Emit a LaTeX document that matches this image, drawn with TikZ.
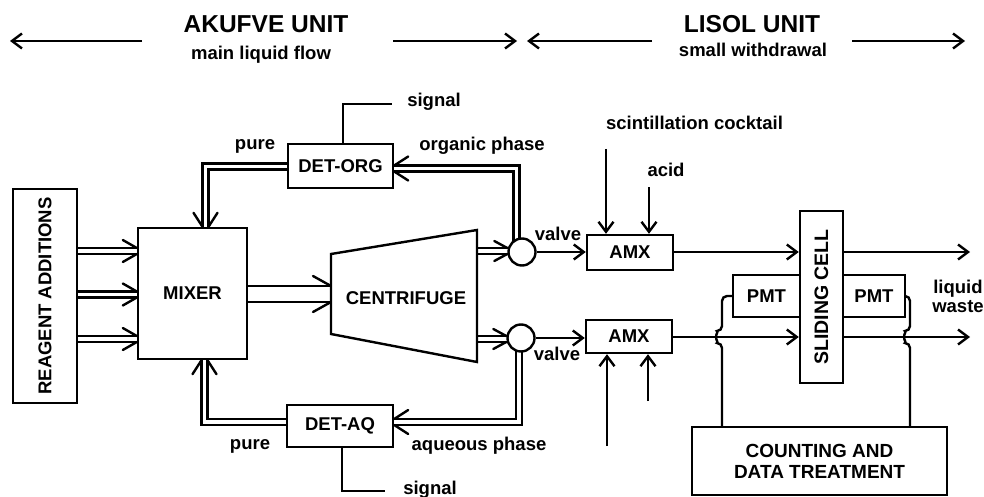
\documentclass[tikz,border=0pt]{standalone}
\usepackage{fontspec}
\setmainfont{Liberation Sans}
\usetikzlibrary{arrows.meta,calc}
\pgfdeclarelayer{bg}
\pgfsetlayers{bg,main}
\newcommand\lf{\fontsize{18.5}{21}\selectfont\bfseries}
\newcommand\hf{\fontsize{24.5}{28}\selectfont\bfseries}
\newcommand\barb[3]{\draw[barbst] (#1) ++(#2,#3) -- (#1);}
\begin{document}
\begin{tikzpicture}[x=1pt,y=-1pt,
  ln/.style={line width=2.4pt},
  arr/.style={ln,-{Straight Barb[length=10pt,width=15pt]}},
  barbst/.style={ln,line cap=round},
  dbl/.style={line width=2.4pt,double,double distance=3.6pt},
  box/.style={draw,line width=2.4pt,fill=white,inner sep=0pt,font=\lf},
  lbl/.style={font=\lf,inner sep=0pt,anchor=base},
  hd/.style={font=\hf,inner sep=0pt,anchor=base},
  valve/.style={draw,circle,line width=2.4pt,fill=white,minimum size=27pt,inner sep=0pt}]
\useasboundingbox (0,0) rectangle (984,497);

% headings
\node[hd] (akufve) at (266,33) {AKUFVE UNIT};
\node[lbl] (mlf) at (261,60) {main liquid flow};
\node[hd] (lisol) at (752,33) {LISOL UNIT};
\node[lbl] (sw) at (753,57) {small withdrawal};
\coordinate (h1a) at (142,41); \coordinate (h1b) at (10,41);
\coordinate (h2a) at (393,41); \coordinate (h2b) at (517,41);
\coordinate (h3a) at (652,41); \coordinate (h3b) at (527,41);
\coordinate (h4a) at (852,41); \coordinate (h4b) at (965,41);
\draw[arr] (h1a) -- (h1b);
\draw[arr] (h2a) -- (h2b);
\draw[arr] (h3a) -- (h3b);
\draw[arr] (h4a) -- (h4b);

% labels
\node[lbl] (sig1) at (434,107) {signal};
\node[lbl] (pure1) at (255,150) {pure};
\node[lbl] (org) at (482,151) {organic phase};
\node[lbl] (scint) at (694.5,130) {scintillation cocktail};
\node[lbl] (acid) at (666,177) {acid};
\node[lbl] (valve1) at (558,240) {valve};
\node[lbl] (valve2) at (557,360) {valve};
\node[lbl] (aq) at (479,450) {aqueous phase};
\node[lbl] (pure2) at (250,449) {pure};
\node[lbl] (sig2) at (430,494) {signal};
\node[lbl] (liq) at (958,293) {liquid};
\node[lbl] (waste) at (958,312) {waste};

% boxes
\node[box,minimum width=64pt,minimum height=214pt] (reagent) at (45,296) {\rotatebox{90}{REAGENT ADDITIONS}};
\node[box,minimum width=109pt,minimum height=131pt] (mixer) at (192.5,293.5) {MIXER};
\node[box,minimum width=105pt,minimum height=44pt] (detorg) at (340.5,166) {DET-ORG};
\node[box,minimum width=106pt,minimum height=42pt] (detaq) at (340,426) {DET-AQ};
\node[valve] (vt) at (522,252) {};
\node[valve] (vb) at (521,338) {};
\node[box,minimum width=86pt,minimum height=35pt] (amxT) at (630,252.5) {AMX};
\node[box,minimum width=86pt,minimum height=33pt] (amxB) at (629,336.5) {AMX};
\node[box,minimum width=43pt,minimum height=172pt] (cell) at (821.5,297) {\rotatebox{90}{\fontsize{19.5}{22}\selectfont SLIDING CELL}};
\node[box,minimum width=67pt,minimum height=42pt] (pmtL) at (766.5,296) {PMT};
\node[box,minimum width=62pt,minimum height=42pt] (pmtR) at (874,296) {PMT};
\node[box,minimum width=255pt,minimum height=68pt,align=center,font=\fontsize{19}{21}\selectfont\bfseries] (count) at (819.5,461) {COUNTING AND\\DATA TREATMENT};

% centrifuge
\coordinate (cfNW) at (331,254);
\coordinate (cfNE) at (477,230);
\coordinate (cfSE) at (477,362);
\coordinate (cfSW) at (331,334);
\draw[ln,fill=white,line join=miter] (cfNW) -- (cfNE) -- (cfSE) -- (cfSW) -- cycle;
\node[font=\lf,inner sep=0pt] (cf) at (406,298) {CENTRIFUGE};

\begin{pgfonlayer}{bg}
% reagent -> mixer
\foreach \yy in {251,294.5,339} {
  \draw[dbl] (reagent.east |- 0,\yy) -- (mixer.west |- 0,\yy);
  \barb{mixer.west |- 0,\yy-3}{-14}{-8}
  \barb{mixer.west |- 0,\yy+3}{-14}{8}
}
% mixer -> centrifuge
\draw[line width=2.4pt,double,double distance=13.6pt] (mixer.east |- 0,294) -- (cfNW |- 0,294);
\barb{cfNW |- 0,286}{-18}{-10}
\barb{cfNW |- 0,302}{-18}{10}
% centrifuge -> valves
\draw[dbl] (cfNE |- 0,251) -- (vt.west |- 0,251);
\barb{vt.west |- 0,248}{-13}{-7}
\barb{vt.west |- 0,254}{-13}{7}
\draw[dbl] (cfNE |- 0,339) -- (vb.west |- 0,339);
\barb{vb.west |- 0,336}{-13}{-7}
\barb{vb.west |- 0,342}{-13}{7}
% valve -> detectors
\draw[dbl] ([xshift=-5.5pt]vt.center) |- (detorg.east |- 0,168.5);
\barb{detorg.east |- 0,165.5}{14}{-9}
\barb{detorg.east |- 0,171.5}{14}{9}
\draw[dbl] ([xshift=-2pt]vb.center) |- (detaq.east |- 0,422);
\barb{detaq.east |- 0,419}{14}{-9}
\barb{detaq.east |- 0,425}{14}{9}
% detectors -> mixer
\draw[dbl] (detorg.west |- 0,166.5) -| (mixer.north -| 205.5,0);
\barb{mixer.north -| 202.5,0}{-9}{-14}
\barb{mixer.north -| 208.5,0}{9}{-14}
\draw[dbl] (detaq.west |- 0,422) -| (mixer.south -| 204.5,0);
\barb{mixer.south -| 201.5,0}{-9}{14}
\barb{mixer.south -| 207.5,0}{9}{14}
% single lines
\draw[arr] (vt.east) -- (amxT.west |- vt.east);
\draw[arr] (vb.east) -- (amxB.west |- vb.east);
\coordinate (sc) at (606,149); \draw[arr] (sc) -- (sc |- amxT.north);
\coordinate (ac) at (649,187); \draw[arr] (ac) -- (ac |- amxT.north);
\coordinate (b1) at (607,446); \draw[arr] (b1) -- (b1 |- amxB.south);
\coordinate (b2) at (648,401); \draw[arr] (b2) -- (b2 |- amxB.south);
\draw[arr] (amxT.east |- 0,252) -- (cell.west |- 0,252);
\draw[arr] (amxB.east |- 0,337) -- (cell.west |- 0,337);
\coordinate (o1) at (970,252); \draw[arr] (cell.east |- o1) -- (o1);
\coordinate (o2) at (970,337); \draw[arr] (cell.east |- o2) -- (o2);
% signal wires
\coordinate (s1) at (392,104); \draw[ln] (detorg.north -| 343,0) |- (s1);
\coordinate (s2) at (385,491); \draw[ln] (detaq.south -| 342,0) |- (s2);
% PMT wires
\draw[ln,rounded corners=5pt] (count.north -| 722,0) -- (722,343) arc[start angle=90,end angle=270,radius=6] |- (pmtL.west);
\draw[ln,rounded corners=5pt] (count.north -| 910,0) -- (910,343) arc[start angle=90,end angle=270,radius=6] |- (pmtR.east);
\end{pgfonlayer}
\end{tikzpicture}
\end{document}
